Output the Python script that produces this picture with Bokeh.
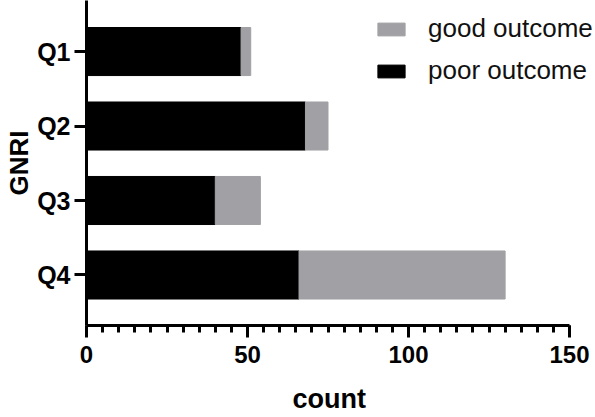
from bokeh.plotting import figure
from bokeh.models import Range1d, FixedTicker, Legend, LegendItem, ColumnDataSource, Title
from bokeh.embed import file_html
from bokeh.resources import INLINE

categories = ["Q1", "Q2", "Q3", "Q4"]
poor_outcome = [48, 68, 40, 66]
good_outcome = [3, 7, 14, 64]
x_ticks = [0, 50, 100, 150]
x_minor_ticks = list(range(0, 151, 5))

n = len(categories)
ypos = [n - i for i in range(n)]
poor_end = poor_outcome
good_end = [p + g for p, g in zip(poor_outcome, good_outcome)]

src = ColumnDataSource(dict(y=ypos, zero=[0] * n, poor=poor_end, good=good_end))

FONT = "Liberation Sans"
p = figure(width=595, height=417, output_backend="svg", toolbar_location=None,
           x_range=Range1d(0, 158.07), y_range=Range1d(0.322, 4.685),
           min_border_left=86, min_border_right=0, min_border_top=0, min_border_bottom=92)
p.outline_line_color = None
p.xgrid.visible = False
p.ygrid.visible = False

H = 0.645
r_poor = p.hbar(y="y", left="zero", right="poor", height=H, color="#000000", source=src)
r_good = p.hbar(y="y", left="poor", right="good", height=H, color="#a1a1a5", source=src)

p.xaxis.ticker = FixedTicker(ticks=x_ticks, minor_ticks=x_minor_ticks)
p.xaxis.bounds = (0, 150)
p.yaxis.ticker = FixedTicker(ticks=ypos)
p.yaxis.major_label_overrides = {y: c for y, c in zip(ypos, categories)}

for ax in (p.xaxis[0], p.yaxis[0]):
    ax.axis_line_width = 3
    ax.axis_line_color = "black"
    ax.major_tick_line_width = 3
    ax.minor_tick_line_width = 3
    ax.major_tick_in = 0
    ax.minor_tick_in = 0
    ax.major_label_text_font = FONT
    ax.major_label_text_font_style = "bold"
    ax.major_label_text_color = "black"
    ax.axis_label_text_font = FONT
    ax.axis_label_text_font_style = "bold"
    ax.axis_label_text_color = "black"

p.xaxis.major_tick_out = 12
p.xaxis.minor_tick_out = 7
p.xaxis.major_label_standoff = 8
p.xaxis.major_label_text_font_size = "24px"

p.yaxis.major_tick_out = 12
p.yaxis.minor_tick_out = 0
p.yaxis.major_label_standoff = 4
p.yaxis.major_label_text_font_size = "25px"
p.yaxis.axis_label = "GNRI"
p.yaxis.axis_label_text_font_size = "26px"
p.yaxis.axis_label_standoff = 0

xlabel = Title(text="count", align="left", offset=206, standoff=0, vertical_align="bottom",
               text_font=FONT, text_font_style="bold", text_font_size="27px",
               text_color="black")
try:
    xlabel.padding = dict(left=0, right=0, top=16, bottom=0)
except Exception:
    xlabel.standoff = 16
p.add_layout(xlabel, "below")

legend = Legend(items=[LegendItem(label="good outcome", renderers=[r_good]),
                       LegendItem(label="poor outcome", renderers=[r_poor])],
                location=(288, 239), padding=0, margin=0, spacing=11,
                glyph_width=34, glyph_height=16, label_height=25,
                label_standoff=20, label_text_font=FONT, label_text_font_size="26px",
                label_text_color="#111111", background_fill_alpha=0, border_line_color=None)
p.add_layout(legend, "center")

open("out.html", "w").write(file_html(p, INLINE))
